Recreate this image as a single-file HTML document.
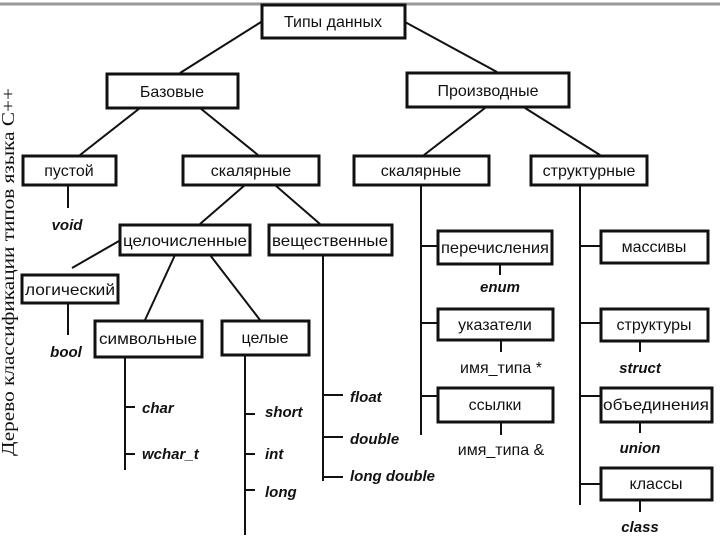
<!DOCTYPE html>
<html><head><meta charset="utf-8"><style>
html,body{margin:0;padding:0;background:#fff;width:720px;height:540px;overflow:hidden}
svg{display:block}
text{font-family:"Liberation Sans",sans-serif;font-size:16px;fill:#111}
.i{font-weight:bold;font-style:italic;font-size:15px}
</style></head><body>
<svg width="720" height="540" viewBox="0 0 720 540">
<line x1="0" y1="4" x2="720" y2="4" stroke="#999" stroke-width="3"/>
<g stroke="#111" stroke-width="2" fill="none">
<line x1="261" y1="22" x2="180" y2="73"/>
<line x1="405" y1="22" x2="497" y2="72"/>
<line x1="140" y1="108" x2="80" y2="155"/>
<line x1="200" y1="108" x2="258" y2="155"/>
<line x1="485" y1="108" x2="424" y2="155"/>
<line x1="525" y1="108" x2="600" y2="155"/>
<line x1="245" y1="185" x2="200" y2="224"/>
<line x1="275" y1="185" x2="320" y2="224"/>
<line x1="119" y1="241" x2="72" y2="268"/>
<line x1="175" y1="255" x2="145" y2="320"/>
<line x1="210" y1="255" x2="260" y2="320"/>
<line x1="68" y1="185" x2="68" y2="208"/>
<line x1="68" y1="303" x2="68" y2="335"/>
<line x1="323" y1="255" x2="323" y2="481"/>
<line x1="323" y1="395" x2="343" y2="395"/>
<line x1="323" y1="437" x2="343" y2="437"/>
<line x1="323" y1="477" x2="343" y2="477"/>
<line x1="125" y1="357" x2="125" y2="470"/>
<line x1="125" y1="407" x2="135" y2="407"/>
<line x1="125" y1="454" x2="135" y2="454"/>
<line x1="245" y1="355" x2="245" y2="535"/>
<line x1="245" y1="414" x2="255" y2="414"/>
<line x1="245" y1="454" x2="255" y2="454"/>
<line x1="245" y1="490" x2="255" y2="490"/>
<line x1="421" y1="185" x2="421" y2="435"/>
<line x1="421" y1="246" x2="437" y2="246"/>
<line x1="421" y1="323" x2="437" y2="323"/>
<line x1="421" y1="396" x2="437" y2="396"/>
<line x1="580" y1="185" x2="580" y2="505"/>
<line x1="580" y1="246" x2="600" y2="246"/>
<line x1="580" y1="323" x2="600" y2="323"/>
<line x1="580" y1="396" x2="600" y2="396"/>
<line x1="580" y1="484" x2="600" y2="484"/>
<line x1="500" y1="264" x2="500" y2="275"/>
<line x1="501" y1="340" x2="501" y2="352"/>
<line x1="501" y1="422" x2="501" y2="435"/>
<line x1="640" y1="341" x2="640" y2="352"/>
<line x1="640" y1="422" x2="640" y2="433"/>
<line x1="640" y1="500" x2="640" y2="512"/>
</g>
<g stroke="#111" stroke-width="3" fill="#fff">
<rect x="262" y="5" width="143" height="33"/>
<rect x="107" y="74" width="131" height="34"/>
<rect x="407" y="73" width="162" height="34"/>
<rect x="23" y="156" width="93" height="29"/>
<rect x="183" y="156" width="136" height="29"/>
<rect x="354" y="156" width="135" height="29"/>
<rect x="531" y="156" width="116" height="29"/>
<rect x="120" y="225" width="130" height="30"/>
<rect x="269" y="225" width="123" height="30"/>
<rect x="22" y="275" width="96" height="28"/>
<rect x="95" y="321" width="107" height="36"/>
<rect x="222" y="321" width="87" height="34"/>
<rect x="438" y="231" width="114" height="33"/>
<rect x="601" y="231" width="107" height="32"/>
<rect x="438" y="309" width="115" height="31"/>
<rect x="601" y="309" width="107" height="32"/>
<rect x="438" y="388" width="115" height="34"/>
<rect x="601" y="388" width="111" height="34"/>
<rect x="601" y="468" width="111" height="32"/>
</g>
<g text-anchor="middle">
<text x="333" y="27">Типы данных</text>
<text x="172" y="97">Базовые</text>
<text x="488" y="96">Производные</text>
<text x="69" y="176">пустой</text>
<text x="251" y="176">скалярные</text>
<text x="421" y="176">скалярные</text>
<text x="589" y="176">структурные</text>
<text x="185" y="246" textLength="124" lengthAdjust="spacingAndGlyphs">целочисленные</text>
<text x="330" y="246" textLength="116" lengthAdjust="spacingAndGlyphs">вещественные</text>
<text x="70" y="295" textLength="90" lengthAdjust="spacingAndGlyphs">логический</text>
<text x="148" y="344" textLength="98" lengthAdjust="spacingAndGlyphs">символьные</text>
<text x="265" y="343">целые</text>
<text x="495" y="253" textLength="108" lengthAdjust="spacingAndGlyphs">перечисления</text>
<text x="654" y="252">массивы</text>
<text x="495" y="330">указатели</text>
<text x="654" y="330">структуры</text>
<text x="495" y="410">ссылки</text>
<text x="656" y="410" textLength="106" lengthAdjust="spacingAndGlyphs">объединения</text>
<text x="656" y="489">классы</text>
<text x="501" y="373">имя_типа *</text>
<text x="501" y="455">имя_типа &amp;</text>
<text class="i" x="500" y="292">enum</text>
<text class="i" x="640" y="373">struct</text>
<text class="i" x="640" y="453">union</text>
<text class="i" x="640" y="532">class</text>
<text class="i" x="67" y="230">void</text>
<text class="i" x="66" y="357">bool</text>
</g>
<text class="i" x="142" y="413">char</text>
<text class="i" x="142" y="459">wchar_t</text>
<text class="i" x="265" y="417">short</text>
<text class="i" x="265" y="459">int</text>
<text class="i" x="265" y="497">long</text>
<text class="i" x="350" y="402">float</text>
<text class="i" x="350" y="444">double</text>
<text class="i" x="350" y="481">long double</text>
<text x="14" y="456" transform="rotate(-90 14 456)" style="font-family:'Liberation Serif',serif;font-size:18px" textLength="368" lengthAdjust="spacingAndGlyphs">Дерево классификации типов языка С++</text>
</svg>
</body></html>
